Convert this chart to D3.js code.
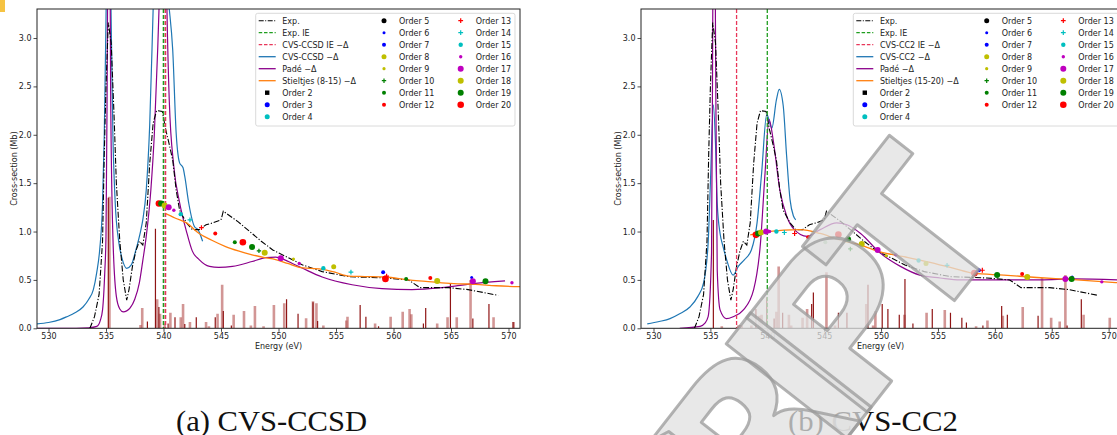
<!DOCTYPE html>
<html>
<head>
<meta charset="utf-8">
<script src="https://cdn.jsdelivr.net/npm/d3@7"></script>
<style>
  body { margin: 0; background: #fff; }
  svg { display: block; font-family: "DejaVu Sans", sans-serif; }
</style>
</head>
<body>
<div id="container"></div>
<script>
// figure size
const WIDTH = 1117;
const HEIGHT = 435;

// experimental spectrum (same in both panels) [energy eV, cross-section Mb]
const expCurve = [[533.6,0],[534.0,0.12],[534.4,0.35],[534.7,0.9],[534.85,1.8],[535.0,2.5],[535.2,3.16],[535.45,2.95],
  [535.7,2.2],[535.9,1.5],[536.2,0.9],[536.5,0.5],[536.8,0.29],[537.0,0.4],[537.3,0.64],[537.6,0.8],[537.9,0.9],
  [538.2,0.86],[538.5,1.09],[538.8,1.7],[539.1,2.12],[539.4,2.25],[539.9,2.24],[540.2,2.05],[540.5,1.9],[540.8,1.74],
  [541.1,1.43],[541.4,1.22],[542.0,1.09],[542.5,1.02],[543.1,1.02],[543.7,1.07],[544.3,1.09],[545.0,1.12],[545.2,1.21],
  [546.5,1.1],[547.7,0.98],[548.5,0.9],[549.5,0.81],[550.0,0.78],[552.1,0.655],[553.8,0.586],[556.1,0.534],
  [559.3,0.52],[561.3,0.5],[562.3,0.42],[564.8,0.42],[566.5,0.4],[569.1,0.34]];

// panel (a) CVS-CCSD
const ccsdCurve = [[529.0,0.045],[530.0,0.06],[531.0,0.09],[531.6,0.12],[532.3,0.16],[533.0,0.22],[533.5,0.3],
  [533.9,0.4],[534.2,0.58],[534.45,0.81],[534.7,1.29],[534.85,2.0],[535.0,3.2],[535.2,5.0],[535.4,3.6],[535.6,2.0],
  [535.8,1.3],[536.1,0.9],[536.4,0.72],[536.8,0.62],[537.2,0.655],[537.6,0.81],[538.0,1.0],[538.2,1.12],[538.5,1.43],
  [538.8,2.1],[539.1,3.3],[539.4,4.5],[539.8,5.0],[540.2,3.6],[540.5,3.3],[540.8,2.88],[541.1,2.02],[541.4,1.71],
  [541.7,1.66],[541.85,1.57],[542.2,1.29],[542.7,1.05],[543.0,1.02],[543.4,0.9]];
const padeCurveA = [[529.0,0],[532.4,0],[533.5,0.005],[534.2,0.02],[534.5,0.08],[534.7,0.19],[534.9,0.6],[535.0,0.95],
  [535.1,2.5],[535.25,6.0],[535.4,2.5],[535.6,0.95],[535.9,0.33],[536.2,0.2],[536.5,0.17],[536.8,0.18],[537.1,0.21],
  [537.5,0.3],[537.9,0.47],[538.2,0.7],[538.5,0.95],[538.9,1.43],[539.2,2.0],[539.5,2.9],[539.8,4.0],[540.1,5.0],
  [540.3,3.3],[540.5,2.36],[540.9,1.67],[541.4,1.3],[542.0,1.0],[542.5,0.8],[543.1,0.71],[544.0,0.64],[544.8,0.63],
  [546.0,0.64],[547.7,0.69],[548.9,0.73],[549.75,0.735],[550.5,0.71],[551.2,0.67],[552.1,0.62],[553.8,0.53],
  [556.4,0.45],[559.0,0.41],[561.6,0.4],[564.2,0.42],[566.8,0.46],[569.7,0.49]];
const stieltjesCurveA = [[540.1,1.19],[541.0,1.14],[542.0,1.09],[543.1,0.98],[544.2,0.91],[545.4,0.845],[546.5,0.8],
  [547.7,0.76],[548.8,0.73],[549.75,0.71],[550.8,0.67],[551.8,0.63],[552.8,0.62],[553.8,0.61],[554.9,0.58],
  [556.1,0.54],[557.5,0.535],[559.3,0.53],[561.3,0.5],[562.8,0.485],[564.2,0.47],[565.6,0.46],[567.1,0.455],
  [568.9,0.44],[571.0,0.43]];
const sticksDarkA = [[535.2,1.35],[538.6,0.07],[539.3,1.03],[539.6,0.22],[540.4,0.05],[541.0,0.115],[541.85,0.045],
  [542.85,0.115],[544.5,0.115],[545.2,0.18],[545.9,0.03],[550.7,0.3],[551.7,0.15],[553.0,0.27],[553.4,0.075],
  [557.1,0.24],[557.6,0.12],[558.7,0.02],[562.6,0.05],[562.8,0.21],[564.95,0.46],[566.9,0.1],[568.3,0.25],[570.4,0.065]];
const sticksLightA = [[535.3,1.36],[538.0,0.035],[538.15,0.21],[539.45,0.3],[539.7,0.15],[540.1,0.05],[540.6,0.16],
  [541.5,0.115],[541.7,0.25],[542.3,0.065],[543.7,0.065],[543.95,0.02],[544.7,0.15],[545.1,0.45],[546.1,0.14],
  [547.0,0.18],[547.6,0.03],[547.95,0.23],[548.7,0.02],[549.6,0.24],[550.5,0.26],[552.4,0.105],[553.0,0.28],
  [553.3,0.26],[553.9,0.03],[555.9,0.08],[556.0,0.12],[558.4,0.05],[559.75,0.12],[560.8,0.17],[561.4,0.2],
  [561.55,0.145],[563.8,0.05],[564.7,0.115],[565.5,0.115],[566.7,0.5],[568.7,0.115],[570.45,0.065]];
const ieExpA = 540.0;
const ieCalcA = 540.17;
// [order, energy, cross-section]
const pointsA = [[20,539.6,1.29],[19,539.8,1.29],[18,540.1,1.27],[17,540.45,1.25],[16,540.9,1.22],[15,541.5,1.18],
  [14,542.3,1.12],[13,543.3,1.04],[12,544.5,0.98],[11,546.2,0.89],[20,546.9,0.89],[19,547.7,0.84],[10,548.3,0.8],
  [18,548.8,0.78],[17,550.2,0.725],[9,551.3,0.715],[16,551.8,0.67],[15,553.9,0.62],[8,554.8,0.635],[14,556.3,0.58],
  [7,559.1,0.58],[13,559.4,0.54],[12,559.2,0.52],[20,559.3,0.51],[11,561.1,0.51],[12,563.2,0.52],[18,563.8,0.49],
  [6,566.8,0.525],[17,566.9,0.485],[19,568.0,0.485],[16,570.3,0.47]];

// panel (b) CVS-CC2
const cc2Curve = [[529.45,0.045],[530.5,0.07],[531.45,0.1],[532.3,0.15],[533.2,0.22],[533.9,0.33],[534.4,0.47],
  [534.8,0.88],[535.0,1.5],[535.26,2.31],[535.45,1.9],[535.6,1.29],[535.85,0.98],[536.1,0.85],[536.4,0.72],
  [537.0,0.55],[537.45,0.64],[538.0,0.71],[538.6,0.81],[539.1,1.09],[539.5,1.6],[539.95,2.21],[540.4,2.07],
  [540.8,2.36],[541.05,2.47],[541.4,2.3],[541.7,1.78],[542.0,1.33],[542.3,1.16],[542.5,1.12]];
const padeCurveB = [[532.3,0],[534.1,0.02],[534.5,0.05],[534.8,0.12],[535.1,0.78],[535.2,3.0],[535.3,6.0],[535.45,3.0],
  [535.6,0.6],[535.85,0.19],[536.4,0.1],[537.0,0.12],[537.9,0.19],[538.8,0.4],[539.4,0.88],[539.8,1.6],[540.15,2.16],
  [540.55,1.92],[541.1,1.43],[541.7,1.16],[542.3,1.03],[543.5,0.95],[544.65,1.02],[546.1,1.09],[547.0,1.07],
  [548.2,0.98],[549.9,0.78],[551.7,0.64],[553.4,0.55],[555.2,0.52],[556.95,0.5],[560.0,0.5],[564.0,0.5],[567.0,0.51],
  [571.0,0.5]];
const stieltjesCurveB = [[538.5,0.966],[540.0,1.0],[542.9,1.02],[544.65,0.98],[546.4,0.91],[548.2,0.86],[549.9,0.79],
  [552.0,0.74],[554.0,0.69],[556.4,0.62],[558.1,0.57],[560.8,0.55],[563.7,0.525],[566.6,0.505],[571.0,0.47]];
const sticksDarkB = [[535.26,1.12],[539.0,0.2],[539.95,0.32],[540.6,0.1],[541.35,0.16],[543.9,0.25],[544.05,0.37],
  [546.25,0.16],[547.0,0.16],[548.85,0.45],[550.1,0.25],[550.6,0.2],[551.6,0.14],[552.1,0.51],[552.8,0.05],
  [554.5,0.2],[556.1,0.16],[557.1,0.11],[557.5,0.06],[558.95,0.03],[560.6,0.23],[561.1,0.14],[563.8,0.13],
  [566.35,0.03],[567.6,0.3]];
const sticksLightB = [[536.0,0.02],[537.45,0.03],[537.6,0.035],[537.75,0.03],[538.6,0.03],[539.3,0.13],[539.5,0.14],
  [540.8,0.17],[541.0,0.64],[541.9,0.14],[542.1,0.03],[543.1,0.11],[543.5,0.2],[545.2,0.58],[545.95,0.03],
  [548.7,0.25],[549.3,0.03],[549.5,0.18],[552.05,0.14],[554.0,0.16],[555.6,0.19],[558.35,0.02],[559.35,0.08],
  [560.7,0.13],[562.45,0.22],[564.15,0.52],[564.95,0.11],[565.7,0.07],[566.2,0.55],[567.8,0.14],[570.1,0.11]];
const ieExpB = 540.0;
const ieCalcB = 537.3;
const pointsB = [[20,539.0,0.966],[19,539.2,0.98],[18,539.45,0.99],[17,539.9,1.0],[16,540.2,1.0],[15,540.8,1.0],
  [14,541.5,0.99],[13,542.4,0.98],[12,543.6,0.94],[11,545.1,0.89],[20,546.25,0.97],[19,547.1,0.92],[10,547.3,0.82],
  [18,548.3,0.87],[17,549.7,0.81],[9,550.45,0.75],[16,551.3,0.76],[15,553.3,0.7],[8,553.95,0.67],[14,555.8,0.65],
  [20,558.2,0.57],[7,558.6,0.6],[13,558.9,0.6],[19,560.2,0.55],[12,562.4,0.56],[18,562.85,0.53],[17,566.2,0.51],
  [6,566.8,0.53],[19,566.75,0.51],[16,569.4,0.48]];

// ticks and labels
const xTicks = [530, 535, 540, 545, 550, 555, 560, 565, 570];
const yTicks = [0, 0.5, 1.0, 1.5, 2.0, 2.5, 3.0];
const orders = [2,3,4,5,6,7,8,9,10,11,12,13,14,15,16,17,18,19,20];
const lineLabelsA = ['Exp.', 'Exp. IE', 'CVS-CCSD IE \u2212\u0394', 'CVS-CCSD \u2212\u0394', 'Pad\u00e9 \u2212\u0394', 'Stieltjes (8-15) \u2212\u0394'];
const lineLabelsB = ['Exp.', 'Exp. IE', 'CVS-CC2 IE \u2212\u0394', 'CVS-CC2 \u2212\u0394', 'Pad\u00e9 \u2212\u0394', 'Stieltjes (15-20) \u2212\u0394'];

// marker styles per order
const orderColor = {2:'#000000',3:'#0000ff',4:'#00bfbf',5:'#000000',6:'#0000ff',7:'#0000ff',8:'#bfbf00',9:'#bfbf00',
  10:'#008000',11:'#008000',12:'#ff0000',13:'#ff0000',14:'#00bfbf',15:'#00bfbf',16:'#bf00bf',17:'#bf00bf',
  18:'#bfbf00',19:'#008000',20:'#ff0000'};
const orderShape = {2:'square',10:'plus',13:'plus',14:'plus'};
const orderSize = {2:2.2,3:2.5,4:2.5,5:2.5,6:1.5,7:2,8:2.5,9:1.6,10:2.2,11:2,12:2,13:2.4,14:2.4,15:2.2,16:1.7,
  17:3,18:3,19:3,20:3.3};

const COL = { exp:'#000', ieExp:'#1f9e1f', ieCalc:'#e8375a', calc:'#1f77b4', pade:'#8b008b', stieltjes:'#ff7f0e',
  stickDark:'#8f1414', stickLight:'#b4504e' };

const svg = d3.select('#container')
  .append('svg')
    .attr('width', WIDTH)
    .attr('height', HEIGHT);

svg.append('rect').attr('x', 0).attr('y', 0).attr('width', 5).attr('height', 12).attr('fill', '#f6c342');

const drawMarker = (sel, order) => {
  const r = orderSize[order];
  const c = orderColor[order];
  if (orderShape[order] === 'square') {
    sel.append('rect').attr('x', -r).attr('y', -r).attr('width', 2*r).attr('height', 2*r).attr('fill', c);
  } else if (orderShape[order] === 'plus') {
    sel.append('path').attr('d', `M${-r},0H${r}M0,${-r}V${r}`).attr('stroke', c).attr('stroke-width', 1.2);
  } else {
    sel.append('circle').attr('r', r).attr('fill', c);
  }
};

const drawPanel = (cfg) => {
  const H = 319.3;
  const g = svg.append('g').attr('transform', `translate(${cfg.left}, 9)`);
  const x = d3.scaleLinear().domain(cfg.xDomain).range([0, cfg.width]);
  const y = d3.scaleLinear().domain([0, 3.3]).range([H, 0]);

  g.append('clipPath').attr('id', cfg.id)
    .append('rect').attr('width', cfg.width).attr('height', H);
  const plot = g.append('g').attr('clip-path', `url(#${cfg.id})`);

  // sticks
  plot.selectAll('.sl').data(cfg.sticksLight).enter().append('line')
    .attr('x1', d => x(d[0])).attr('x2', d => x(d[0]))
    .attr('y1', y(0)).attr('y2', d => y(d[1]))
    .attr('stroke', COL.stickLight).attr('stroke-opacity', 0.6).attr('stroke-width', 2.6);
  plot.selectAll('.sd').data(cfg.sticksDark).enter().append('line')
    .attr('x1', d => x(d[0])).attr('x2', d => x(d[0]))
    .attr('y1', y(0)).attr('y2', d => y(d[1]))
    .attr('stroke', COL.stickDark).attr('stroke-width', 1.2);

  const line = d3.line().x(d => x(d[0])).y(d => y(d[1])).curve(d3.curveMonotoneX);
  const linear = d3.line().x(d => x(d[0])).y(d => y(d[1]));

  plot.append('path').datum(cfg.calc).attr('d', line)
    .attr('fill', 'none').attr('stroke', COL.calc).attr('stroke-width', 1.2);
  plot.append('path').datum(cfg.pade).attr('d', line)
    .attr('fill', 'none').attr('stroke', COL.pade).attr('stroke-width', 1.2);
  plot.append('path').datum(expCurve).attr('d', linear)
    .attr('fill', 'none').attr('stroke', COL.exp).attr('stroke-width', 1.1)
    .attr('stroke-dasharray', '6,1.8,1.2,1.8');
  plot.append('path').datum(cfg.stieltjes).attr('d', line)
    .attr('fill', 'none').attr('stroke', COL.stieltjes).attr('stroke-width', 1.3);

  // ionisation energies
  plot.append('line').attr('x1', x(cfg.ieExp)).attr('x2', x(cfg.ieExp)).attr('y1', 0).attr('y2', H)
    .attr('stroke', COL.ieExp).attr('stroke-width', cfg.ieWidth).attr('stroke-dasharray', '4,2');
  plot.append('line').attr('x1', x(cfg.ieCalc)).attr('x2', x(cfg.ieCalc)).attr('y1', 0).attr('y2', H)
    .attr('stroke', COL.ieCalc).attr('stroke-width', cfg.ieWidth).attr('stroke-dasharray', '4,2');

  // Padé order points
  plot.selectAll('.pt').data(cfg.points).enter().append('g')
    .attr('transform', d => `translate(${x(d[1])}, ${y(d[2])})`)
    .each(function(d) { drawMarker(d3.select(this), d[0]); });

  // axes
  const xAxis = g.append('g').attr('transform', `translate(0, ${H})`)
    .call(d3.axisBottom(x).tickValues(xTicks).tickFormat(d3.format('d')).tickSize(3.5).tickPadding(2));
  const yAxis = g.append('g')
    .call(d3.axisLeft(y).tickValues(yTicks).tickFormat(d3.format('.1f')).tickSize(3.5).tickPadding(2));
  [xAxis, yAxis].forEach(a => {
    a.select('.domain').remove();
    a.selectAll('text').attr('font-size', 8).attr('font-family', '"DejaVu Sans", sans-serif').attr('fill', '#222');
    a.selectAll('line').attr('stroke', '#222').attr('stroke-width', 0.8);
  });
  g.append('rect').attr('width', cfg.width).attr('height', H)
    .attr('fill', 'none').attr('stroke', '#222').attr('stroke-width', 1);

  g.append('text').attr('x', cfg.width / 2).attr('y', H + 21).attr('text-anchor', 'middle')
    .attr('font-size', 8).attr('fill', '#222').text('Energy (eV)');
  g.append('text').attr('transform', `translate(-20, ${H / 2}) rotate(-90)`).attr('text-anchor', 'middle')
    .attr('font-size', 8).attr('fill', '#222').text('Cross-section (Mb)');

  // legend
  const lg = g.append('g').attr('transform', `translate(${cfg.legendX}, 4.3)`);
  lg.append('rect').attr('width', cfg.legendW).attr('height', 112.7).attr('rx', 2)
    .attr('fill', '#fff').attr('fill-opacity', 0.85).attr('stroke', '#d0d0d0').attr('stroke-width', 0.8);
  const rowY = i => 7.4 + i * 12;
  const handles = [
    {stroke: COL.exp, dash: '5,1.5,1,1.5', w: 1.1},
    {stroke: COL.ieExp, dash: '3.5,1.8', w: 1.3},
    {stroke: COL.ieCalc, dash: '3.5,1.8', w: 1.3},
    {stroke: COL.calc, dash: null, w: 1.3},
    {stroke: COL.pade, dash: null, w: 1.3},
    {stroke: COL.stieltjes, dash: null, w: 1.3}
  ];
  cfg.lineLabels.forEach((lab, i) => {
    const h = handles[i];
    lg.append('line').attr('x1', 3).attr('x2', 20).attr('y1', rowY(i)).attr('y2', rowY(i))
      .attr('stroke', h.stroke).attr('stroke-width', h.w).attr('stroke-dasharray', h.dash);
    lg.append('text').attr('x', 26.6).attr('y', rowY(i) + 3).attr('font-size', 8).attr('fill', '#222').text(lab);
  });
  orders.forEach((o, k) => {
    let col, row;
    if (k < 3) { col = 0; row = 6 + k; }
    else if (k < 11) { col = 1; row = k - 3; }
    else { col = 2; row = k - 11; }
    const mx = [11.5, cfg.col2, cfg.col3][col];
    const mg = lg.append('g').attr('transform', `translate(${mx}, ${rowY(row)})`);
    drawMarker(mg, o);
    lg.append('text').attr('x', mx + 15).attr('y', rowY(row) + 3).attr('font-size', 8).attr('fill', '#222')
      .text(`Order ${o}`);
  });
};

drawPanel({ id: 'clipA', left: 37, width: 483, xDomain: [529, 571], calc: ccsdCurve, pade: padeCurveA,
  stieltjes: stieltjesCurveA, sticksDark: sticksDarkA, sticksLight: sticksLightA, ieExp: ieExpA, ieCalc: ieCalcA,
  ieWidth: 1.6, points: pointsA, lineLabels: lineLabelsA, legendX: 218.7, legendW: 259.3, col2: 128.3, col3: 205 });
drawPanel({ id: 'clipB', left: 641, width: 479, xDomain: [528.9, 571], calc: cc2Curve, pade: padeCurveB,
  stieltjes: stieltjesCurveB, sticksDark: sticksDarkB, sticksLight: sticksLightB, ieExp: ieExpB, ieCalc: ieCalcB,
  ieWidth: 1.3, points: pointsB, lineLabels: lineLabelsB, legendX: 212.3, legendW: 268, col2: 133.4, col3: 210 });

// sub-captions
svg.append('text').attr('x', 176).attr('y', 431)
  .style('font-family', '"Liberation Serif", "Times New Roman", serif')
  .attr('font-size', 30).attr('fill', '#111').attr('textLength', 191).attr('lengthAdjust', 'spacingAndGlyphs')
  .text('(a) CVS-CCSD');
svg.append('text').attr('x', 788).attr('y', 431)
  .style('font-family', '"Liberation Serif", "Times New Roman", serif')
  .attr('font-size', 30).attr('fill', '#111').attr('textLength', 170).attr('lengthAdjust', 'spacingAndGlyphs')
  .text('(b) CVS-CC2');

// watermark
svg.append('text')
  .attr('transform', 'translate(983, 264) rotate(-52)')
  .attr('text-anchor', 'end')
  .style('font-family', '"DejaVu Sans", sans-serif').style('letter-spacing', '-45px')
  .attr('font-weight', 'bold').attr('font-size', 210)
  .attr('fill', '#e0e0e0').attr('fill-opacity', 0.75)
  .attr('stroke', '#9a9a9a').attr('stroke-width', 3).attr('stroke-opacity', 0.75)
  .attr('stroke-linejoin', 'round')
  .text('SCRIPT');
</script>
</body>
</html>
